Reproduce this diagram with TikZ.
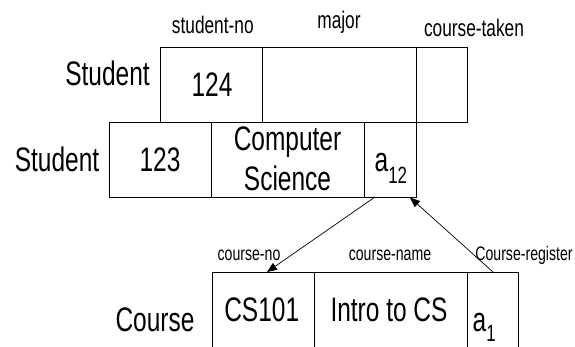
\documentclass[tikz,border=0pt]{standalone}
\usepackage{fontspec}
\usetikzlibrary{arrows.meta,calc}
\newfontfamily\cellfont[FakeStretch=0.72]{Liberation Sans}
\newcommand{\bigtxt}{\cellfont\fontsize{34}{36}\selectfont}
\newcommand{\toptxt}{\cellfont\fontsize{24}{26}\selectfont}
\newcommand{\bottxt}{\cellfont\fontsize{19.6}{21}\selectfont}
\newcommand{\subtxt}{\cellfont\fontsize{23.5}{24}\selectfont}
\begin{document}
\begin{tikzpicture}[x=1pt,y=-1pt,
  cell/.style={draw=black, line width=0.9pt, inner sep=0pt, outer sep=0pt},
  row/.style={cell, minimum height=75pt},
  lbl/.style={anchor=base, inner sep=0pt, text=black},
  conn/.style={draw=black, line width=0.7pt, -{Triangle[length=10pt,width=8pt]}}]
\clip (0,0) rectangle (575,346);
\fill[white] (0,0) rectangle (575,346);

% record for student 124
\node[row, minimum width=102pt] (sno1) at (211,84.5) {};
\node[row, minimum width=154pt] (maj1) at (339,84.5) {};
\node[row, minimum width=51pt]  (ctk1) at (441.5,84.5) {};

% record for student 123
\node[row, minimum width=102pt] (sno2) at (160,159.5) {};
\node[row, minimum width=153pt] (maj2) at (287.5,159.5) {};
\node[row, minimum width=52pt]  (ctk2) at (390,159.5) {};

% course record (runs past the lower edge)
\node[cell, minimum height=80pt, minimum width=102pt] (cno)  at (263,312) {};
\node[cell, minimum height=80pt, minimum width=153pt] (cnam) at (390.5,312) {};
\node[cell, minimum height=80pt, minimum width=51pt]  (creg) at (492.5,312) {};

% field names
\node[lbl] (hsno) at (212.8,33) {\toptxt student-no};
\node[lbl] (hmaj) at (339,28) {\toptxt major};
\node[lbl] (hctk) at (474,36) {\toptxt course-taken};
\node[lbl] (hcno) at (249,260) {\bottxt course-no};
\node[lbl] (hcnm) at (390,260) {\bottxt course-name};
\node[lbl] (hcrg) at (524,260) {\bottxt Course-register};

% record types
\node[lbl] (t1) at (107.5,85) {\bigtxt Student};
\node[lbl] (t2) at (57,171.7) {\bigtxt Student};
\node[lbl] (t3) at (155,331.7) {\bigtxt Course};

% values
\node[lbl] (v124) at (212,96.7) {\bigtxt 124};
\node[lbl] (v123) at (160,171.7) {\bigtxt 123};
\node[lbl] (vcs1) at (287.5,150) {\bigtxt Computer};
\node[lbl] (vcs2) at (287.5,190.7) {\bigtxt Science};
\node[lbl, anchor=base west] (va12) at (374.5,171.7) {\bigtxt a\raisebox{-11.3pt}{\subtxt 12}};
\node[lbl] (vcid) at (261.7,321.7) {\bigtxt CS101};
\node[lbl] (vcnm) at (389,321.7) {\bigtxt Intro to CS};
\node[lbl, anchor=base west] (va1) at (472.5,331.7) {\bigtxt a\raisebox{-10pt}{\subtxt 1}};

% pointer ends on the cell borders
\coordinate (p1) at ($(ctk2.south west)+(11,0)$);
\coordinate (p2) at ($(cno.north west)+(55,0)$);
\coordinate (q1) at ($(creg.north west)+(26,0)$);
\coordinate (q2) at ($(ctk2.south west)+(46,0.5)$);

\draw[conn] (p1) -- (p2);
\draw[conn] (q1) -- (q2);
\end{tikzpicture}
\end{document}
